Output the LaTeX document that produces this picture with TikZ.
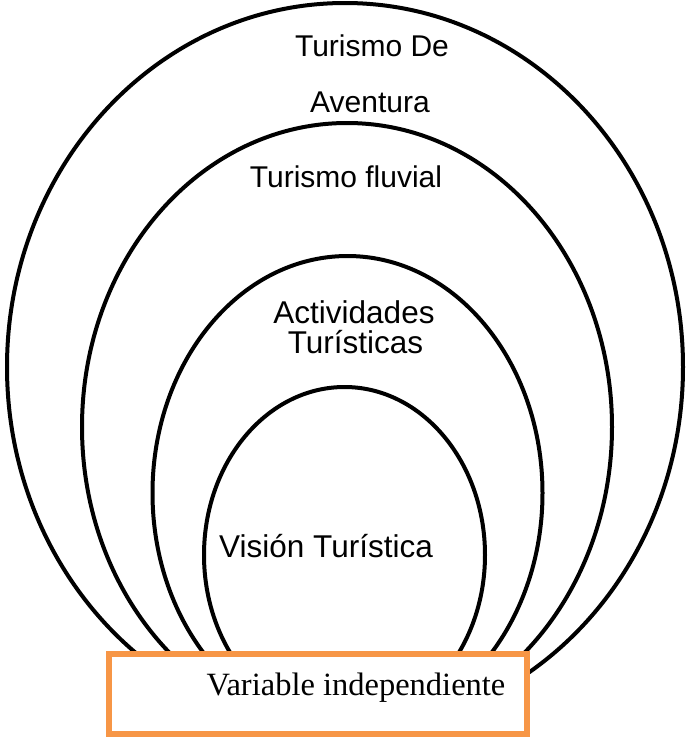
\documentclass[tikz,border=0pt]{standalone}
\usepackage{fontspec}
\setmainfont{Liberation Sans}
\newfontfamily\timesf{Liberation Serif}
\definecolor{boxorange}{RGB}{247,150,70}
\begin{document}
\begin{tikzpicture}[x=1pt,y=-1pt,
  ring/.style={draw=black,line width=4pt},
  lbl/.style={anchor=base,inner sep=0pt,font=\fontsize{30}{30}\selectfont},
  lblw/.style={anchor=base,inner sep=0pt,font=\fontsize{31.5}{31.5}\selectfont},
  varbox/.style={draw=boxorange,fill=white,line width=5.5pt}]
\useasboundingbox (0,0) rectangle (687,737);
% rings
\draw[ring] (345,367) ellipse [x radius=338pt, y radius=364pt];
\draw[ring] (347,427) ellipse [x radius=265pt, y radius=304pt];
\draw[ring] (347.5,493) ellipse [x radius=195pt, y radius=237pt];
\draw[ring] (344.5,555) ellipse [x radius=140.5pt, y radius=168pt];
% labels
\node[lbl] (t1) at (372,56) {Turismo De};
\node[lbl] (t2) at (370,112) {Aventura};
\node[lbl] (t3) at (346,187) {Turismo fluvial};
\node[lblw] (t4) at (354,323) {Actividades};
\node[lblw] (t5) at (355.5,353) {Turísticas};
\node[lblw] (t6) at (326,557) {Visión Turística};
% box
\draw[varbox] (109,654) rectangle (527,734);
\node[anchor=base,inner sep=0pt,font=\timesf\fontsize{32.5}{32.5}\selectfont] (vi) at (356,695) {Variable independiente};
\end{tikzpicture}
\end{document}
